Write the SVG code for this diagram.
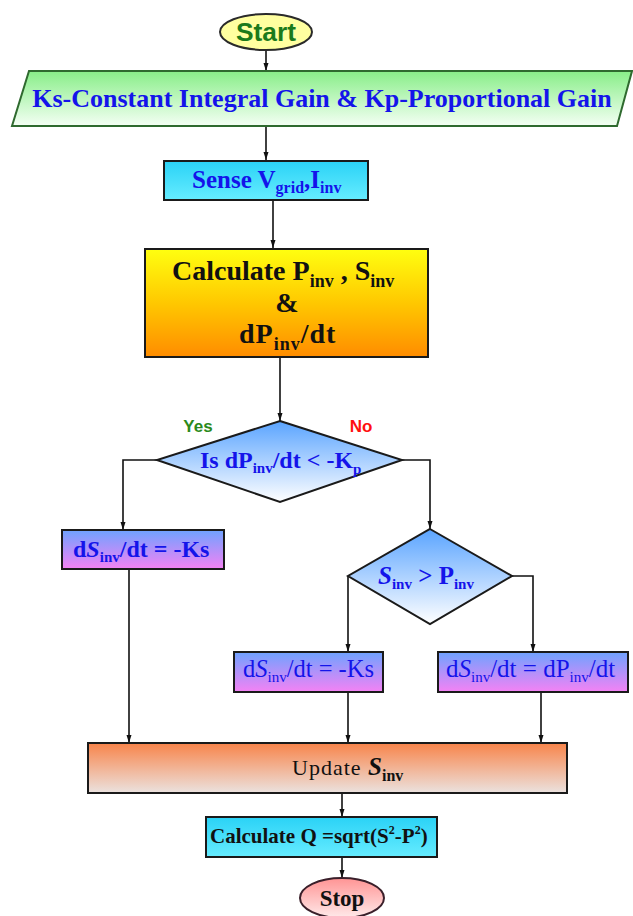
<svg xmlns="http://www.w3.org/2000/svg" width="633" height="916" viewBox="0 0 633 916">
<defs>
<linearGradient id="gPara" x1="0" y1="0" x2="0" y2="1"><stop offset="0" stop-color="#88ee88"/><stop offset="1" stop-color="#f4fff4"/></linearGradient>
<linearGradient id="gCyan" x1="0" y1="0" x2="0" y2="1"><stop offset="0" stop-color="#2ad2f6"/><stop offset="1" stop-color="#66ecff"/></linearGradient>
<linearGradient id="gCalc" x1="0" y1="0" x2="0" y2="1"><stop offset="0" stop-color="#ffff10"/><stop offset="0.5" stop-color="#ffc800"/><stop offset="1" stop-color="#ff8c00"/></linearGradient>
<linearGradient id="gDia" x1="0" y1="0" x2="0" y2="1"><stop offset="0" stop-color="#5aa4ff"/><stop offset="1" stop-color="#ffffff"/></linearGradient>
<linearGradient id="gDs" x1="0" y1="0" x2="0" y2="1"><stop offset="0" stop-color="#6ea2ff"/><stop offset="1" stop-color="#f482f4"/></linearGradient>
<linearGradient id="gUpd" x1="0" y1="0" x2="0" y2="1"><stop offset="0" stop-color="#f8844a"/><stop offset="1" stop-color="#ebe2df"/></linearGradient>
<linearGradient id="gStop" x1="0" y1="0" x2="0" y2="1"><stop offset="0" stop-color="#ff9494"/><stop offset="1" stop-color="#ffeaea"/></linearGradient>
<marker id="arr" markerWidth="8" markerHeight="6" refX="8" refY="3" orient="auto" markerUnits="userSpaceOnUse"><path d="M0,0.5 L8,3 L0,5.5 z" fill="#111"/></marker>
</defs>
<style>
.box{stroke:#1a1a1a;stroke-width:2}
.con{fill:none;stroke:#111;stroke-width:1.6}
.arw{marker-end:url(#arr)}
.t{font-family:"Liberation Serif","Times New Roman",serif;font-weight:bold;fill:#1414ea}
.k{font-family:"Liberation Serif","Times New Roman",serif;font-weight:bold;fill:#111}
.r{font-family:"Liberation Serif","Times New Roman",serif;font-weight:normal;fill:#1414ea}
.s{font-family:"Liberation Sans",Arial,sans-serif;font-weight:bold}
.sub{font-size:15px}
</style>
<rect width="633" height="916" fill="#ffffff"/>
<g id="connectors">
<line class="con arw" x1="266" y1="50" x2="266" y2="71"/>
<line class="con arw" x1="266" y1="126" x2="266" y2="160"/>
<line class="con arw" x1="273" y1="200" x2="273" y2="248"/>
<line class="con arw" x1="280" y1="357" x2="280" y2="421"/>
<polyline class="con arw" points="157,460 123,460 123,530"/>
<polyline class="con arw" points="402,460 430,460 430,529"/>
<line class="con arw" x1="129" y1="569" x2="129" y2="743"/>
<polyline class="con arw" points="348,576 348,652"/>
<polyline class="con arw" points="512,576 533,576 533,652"/>
<line class="con arw" x1="348" y1="692" x2="348" y2="743"/>
<line class="con arw" x1="541" y1="692" x2="541" y2="743"/>
<line class="con arw" x1="342" y1="793" x2="342" y2="817"/>
<line class="con arw" x1="342" y1="857" x2="342" y2="878"/>
</g>
<g id="start">
<ellipse cx="266" cy="32" rx="46" ry="18" fill="#ffffa0" stroke="#2a2a2a" stroke-width="2"/>
<text class="s" x="266" y="41" font-size="25" fill="#1b7a1b" text-anchor="middle" textLength="60" lengthAdjust="spacingAndGlyphs">Start</text>
</g>
<g id="gains">
<polygon points="29,71 632,71 617,126 12,126" fill="url(#gPara)" stroke="#2f6a2f" stroke-width="2"/>
<text class="t" x="322" y="107" font-size="26" text-anchor="middle">Ks-Constant Integral Gain &amp; Kp-Proportional Gain</text>
</g>
<g id="sense">
<rect class="box" x="164" y="161" width="204" height="39" fill="url(#gCyan)"/>
<text class="t" x="192" y="188" font-size="25">Sense V<tspan font-size="16" dy="5">grid</tspan><tspan dy="-5">,I</tspan><tspan font-size="16" dy="5">inv</tspan></text>
</g>
<g id="calculate">
<rect class="box" x="145" y="249" width="283" height="108" fill="url(#gCalc)"/>
<text class="k" x="172" y="280" font-size="28">Calculate P<tspan font-size="18" dy="7">inv</tspan><tspan dy="-7"> , S</tspan><tspan font-size="18" dy="7">inv</tspan></text>
<text class="k" x="287" y="312" font-size="28" text-anchor="middle">&amp;</text>
<text class="k" x="239" y="343" font-size="28" letter-spacing="1">dP<tspan font-size="18" dy="7">inv</tspan><tspan dy="-7">/dt</tspan></text>
</g>
<g id="decision1">
<polygon points="280,421 402,460 280,502 157,460" fill="url(#gDia)" stroke="#1a1a1a" stroke-width="2"/>
<text class="t" x="200" y="468" font-size="24">Is dP<tspan class="sub" dy="5">inv</tspan><tspan dy="-5">/dt &lt; -K</tspan><tspan class="sub" dy="6">p</tspan></text>
<text class="s" x="198" y="432" font-size="17" fill="#2b8a1b" text-anchor="middle">Yes</text>
<text class="s" x="361" y="432" font-size="17" fill="#ff1010" text-anchor="middle">No</text>
</g>
<g id="dsKs1">
<rect class="box" x="62" y="530" width="162" height="39" fill="url(#gDs)"/>
<text class="t" x="73" y="557" font-size="24">d<tspan font-style="italic">S</tspan><tspan class="sub" dy="5">inv</tspan><tspan dy="-5">/dt = -Ks</tspan></text>
</g>
<g id="decision2">
<polygon points="430,529 512,576 430,624 348,576" fill="url(#gDia)" stroke="#1a1a1a" stroke-width="2"/>
<text class="t" x="378" y="584" font-size="25"><tspan font-style="italic">S</tspan><tspan class="sub" dy="5">inv</tspan><tspan dy="-5"> &gt; P</tspan><tspan class="sub" dy="5">inv</tspan></text>
</g>
<g id="dsKs2">
<rect class="box" x="234" y="652" width="149" height="40" fill="url(#gDs)"/>
<text class="r" x="243" y="677" font-size="24.5">d<tspan font-style="italic">S</tspan><tspan class="sub" dy="5">inv</tspan><tspan dy="-5">/dt = -Ks</tspan></text>
</g>
<g id="dsDp">
<rect class="box" x="438" y="652" width="190" height="40" fill="url(#gDs)"/>
<text class="r" x="446" y="677" font-size="25">d<tspan font-style="italic">S</tspan><tspan class="sub" dy="5">inv</tspan><tspan dy="-5">/dt = dP</tspan><tspan class="sub" dy="5">inv</tspan><tspan dy="-5">/dt</tspan></text>
</g>
<g id="update">
<rect class="box" x="88" y="743" width="479" height="50" fill="url(#gUpd)"/>
<text x="292" y="775" font-family="Liberation Serif, Times New Roman, serif" font-size="22" fill="#111" letter-spacing="1">Update <tspan font-weight="bold" font-style="italic" font-size="25" letter-spacing="0">S</tspan><tspan font-weight="bold" font-size="16" dy="6" letter-spacing="0">inv</tspan></text>
</g>
<g id="calcQ">
<rect class="box" x="206" y="817" width="231" height="40" fill="url(#gCyan)"/>
<text class="k" x="210" y="843" font-size="21">Calculate Q =sqrt(S<tspan font-size="12" dy="-9">2</tspan><tspan dy="9">-P</tspan><tspan font-size="12" dy="-9">2</tspan><tspan dy="9">)</tspan></text>
</g>
<g id="stop">
<ellipse cx="342" cy="898" rx="42" ry="20" fill="url(#gStop)" stroke="#3a1f2a" stroke-width="2"/>
<text class="k" x="342" y="906" font-size="23" text-anchor="middle">Stop</text>
</g>
</svg>
